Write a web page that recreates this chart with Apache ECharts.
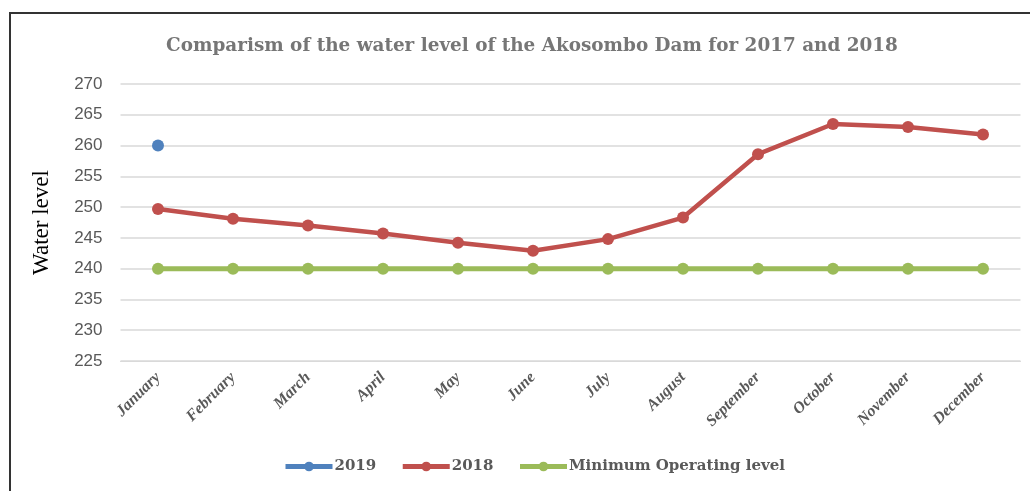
<!DOCTYPE html>
<html><head><meta charset="utf-8">
<script src="https://cdn.jsdelivr.net/npm/echarts@6/dist/echarts.min.js"></script>
<style>
html,body{margin:0;padding:0;background:#fff;overflow:hidden}
#frame{position:absolute;left:9px;top:12px;width:1100px;height:600px;border:2px solid #333;box-sizing:border-box}
#c{position:absolute;left:0;top:0;width:1030px;height:491px}
</style></head>
<body>
<div id="frame"></div>
<div id="c"></div>
<script>
const months = ['January','February','March','April','May','June','July','August','September','October','November','December'];
const s2019 = [260, null, null, null, null, null, null, null, null, null, null, null];
const s2018 = [249.7, 248.1, 247.0, 245.7, 244.2, 242.9, 244.8, 248.3, 258.6, 263.5, 263.0, 261.8];
const sMin = [240, 240, 240, 240, 240, 240, 240, 240, 240, 240, 240, 240];
const yTicks = [225, 230, 235, 240, 245, 250, 255, 260, 265, 270];

const chart = echarts.init(document.getElementById('c'), null, {renderer:'canvas'});
const serif = '"Liberation Serif", "DejaVu Serif", serif';
const wideSerif = '"DejaVu Serif", serif';
function mk(name, data, color, width) {
  return {name, type:'line', data, symbol:'circle', symbolSize:12,
    lineStyle:{color, width}, itemStyle:{color}, connectNulls:false, animation:false};
}
chart.setOption({
  animation:false,
  title:{text:'Comparism of the water level of the Akosombo Dam for 2017 and 2018', left:527, top:32, textAlign:'center',
    textStyle:{fontFamily:wideSerif, fontWeight:'bold', fontSize:18.4, color:'#767676'}},
  grid:{left:120.5, right:9.5, top:84, bottom:130, containLabel:false},
  xAxis:{type:'category', data:months, boundaryGap:true,
    axisLine:{lineStyle:{color:'#d9d9d9', width:1}}, axisTick:{show:false},
    axisLabel:{rotate:45, interval:0, fontFamily:serif, fontWeight:'bold', fontStyle:'italic', fontSize:16, color:'#595959', margin:14}},
  yAxis:{type:'value', min:yTicks[0], max:yTicks[yTicks.length-1], interval:5,
    name:'Water level', nameLocation:'middle', nameGap:67, nameRotate:90,
    nameTextStyle:{fontFamily:'"Liberation Serif", serif', fontSize:23, color:'#000'},
    axisLine:{show:false}, axisTick:{show:false},
    splitLine:{lineStyle:{color:'#d9d9d9', width:1.5}},
    axisLabel:{fontFamily:'"Liberation Sans", Arial, sans-serif', fontSize:17, color:'#595959', margin:18}},
  legend:{bottom:17, left:283, padding:0, itemWidth:47, itemHeight:12, itemGap:24,
    lineStyle:{width:5},
    textStyle:{fontFamily:wideSerif, fontWeight:'bold', fontSize:15, color:'#595959', padding:[0,0,0,-3]},
    data:['2019','2018','Minimum Operating level']},
  series:[
    mk('2019', s2019, '#4F81BD', 4.5),
    mk('2018', s2018, '#C0504D', 4.5),
    mk('Minimum Operating level', sMin, '#9BBB59', 5)
  ]
});
</script>
</body></html>
